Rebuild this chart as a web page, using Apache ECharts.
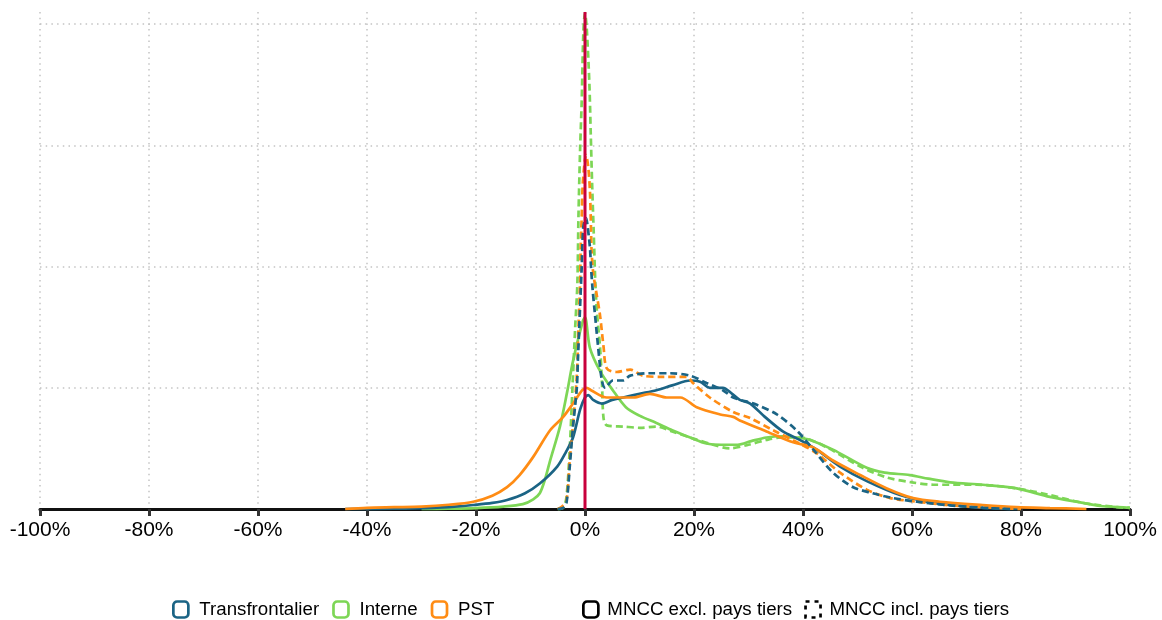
<!DOCTYPE html>
<html>
<head>
<meta charset="utf-8">
<script src="https://cdn.jsdelivr.net/npm/echarts@6/dist/echarts.min.js"></script>
<style>
html,body{margin:0;padding:0;background:#fff;}
#chart{width:1162px;height:620px;}
</style>
</head>
<body>
<div id="chart"></div>
<script>
// ---- Data (x in %, y in density units) ----
const xTicks = [-100, -80, -60, -40, -20, 0, 20, 40, 60, 80, 100];
const groupNames = ['Transfrontalier', 'Interne', 'PST'];
const styleNames = ['MNCC excl. pays tiers', 'MNCC incl. pays tiers'];

const transExcl = [[-44,0],[-35,0.003],[-28,0.01],[-24,0.02],[-20.5,0.033],[-17,0.05],[-14.3,0.074],[-11,0.13],[-8.3,0.21],[-5.1,0.35],[-3.5,0.47],[-2.2,0.59],[-0.9,0.82],[0,0.92],[0.6,0.94],[1.5,0.9],[3.1,0.87],[5,0.9],[7,0.92],[10,0.95],[13.1,0.98],[16,1.02],[19.3,1.06],[21.1,1.05],[22.9,1.0],[25.3,1.0],[27,0.95],[28.4,0.9],[30.3,0.87],[33,0.76],[36.3,0.64],[39.4,0.57],[42.5,0.49],[46.8,0.35],[51.7,0.23],[57.8,0.115],[63.9,0.05],[70,0.02],[75,0.005],[80,0]];
const transIncl = [[-5,0],[-4,0.01],[-3.4,0.05],[-2.8,0.35],[-2.2,0.68],[-1.5,1.0],[-1.3,1.23],[-0.6,2.0],[-0.3,2.33],[0.2,2.4],[0.4,2.36],[0.9,2.16],[1.1,2.0],[1.4,1.81],[1.8,1.62],[2.4,1.34],[3.1,1.06],[3.7,1.0],[5.1,1.06],[7,1.06],[8.3,1.1],[11.9,1.12],[15.6,1.12],[19.3,1.1],[22.3,1.04],[25.3,0.98],[27.2,0.92],[31.5,0.86],[35.2,0.78],[38.8,0.65],[41.9,0.49],[45.5,0.3],[49.2,0.18],[52.8,0.13],[56.5,0.09],[60.9,0.06],[67,0.03],[73,0.01],[78,0]];
const greenExcl = [[-30,0],[-25,0.003],[-20,0.008],[-15,0.02],[-11.4,0.04],[-9.5,0.08],[-8.3,0.13],[-7.3,0.25],[-6.4,0.4],[-4.6,0.68],[-3.3,0.96],[-2.2,1.22],[-0.4,1.55],[0,1.58],[0.9,1.33],[2.75,1.14],[5.1,0.98],[7.5,0.84],[10,0.77],[13.1,0.71],[16,0.65],[19.3,0.59],[22.3,0.54],[25,0.53],[28,0.53],[30.5,0.56],[33.3,0.59],[36.3,0.6],[39,0.59],[41.3,0.57],[45.5,0.49],[51.7,0.34],[55,0.3],[59.6,0.28],[63,0.25],[67,0.22],[73,0.2],[79.2,0.17],[85.3,0.1],[91.4,0.05],[94.5,0.025],[99.4,0.012],[100,0.01]];
const greenIncl = [[-5,0],[-4,0.01],[-3.4,0.1],[-2.8,0.5],[-2.3,1.0],[-1.8,1.5],[-1.4,1.86],[-1.2,2.41],[-0.9,2.96],[-0.6,3.37],[-0.3,3.93],[0,4.09],[0.3,3.98],[0.8,3.51],[1.05,3.1],[1.3,2.69],[1.6,2.28],[1.9,1.86],[2.2,1.62],[2.75,1.34],[3.1,1.06],[3.4,0.75],[4,0.69],[7,0.68],[10.1,0.67],[13.1,0.68],[16,0.64],[19.3,0.59],[23.5,0.53],[26.6,0.5],[30,0.53],[33.3,0.57],[36,0.59],[39.4,0.59],[44.3,0.51],[50.5,0.35],[55.4,0.26],[60,0.22],[63.9,0.2],[71.9,0.2],[79.2,0.17],[85.3,0.115],[91.4,0.05],[97.6,0.015],[100,0.01]];
const pstExcl = [[-44,0],[-40,0.01],[-35,0.015],[-30,0.02],[-25,0.035],[-20.5,0.06],[-17,0.11],[-14.3,0.18],[-12,0.28],[-9.5,0.43],[-6.4,0.65],[-4,0.76],[-2.2,0.87],[-0.5,0.98],[0.3,1.0],[1.1,0.98],[4,0.92],[8.9,0.92],[11.9,0.95],[15,0.92],[17.5,0.92],[20.5,0.84],[24.8,0.78],[27.2,0.76],[28.4,0.73],[33.3,0.64],[38.2,0.55],[41.8,0.51],[45.5,0.4],[50.5,0.28],[55.4,0.17],[60.2,0.09],[65.1,0.06],[73,0.033],[79.2,0.016],[85.3,0.008],[92,0]];
const pstIncl = [[-5,0],[-4.2,0.02],[-3.4,0.07],[-2.8,0.4],[-2.2,0.7],[-1.5,1.1],[-1.2,1.5],[-0.9,1.86],[-0.8,2.14],[-0.6,2.41],[-0.4,2.69],[0.2,2.92],[0.6,2.82],[0.9,2.63],[1.05,2.41],[1.2,2.14],[1.5,1.95],[2.1,1.78],[2.75,1.6],[3.4,1.34],[4,1.16],[5.8,1.13],[8.3,1.15],[10.6,1.1],[14.3,1.09],[18.7,1.09],[19.8,1.04],[22.9,0.92],[27.2,0.8],[30.3,0.75],[34.5,0.65],[39.4,0.54],[42.5,0.46],[46.8,0.3],[51.7,0.16],[56,0.09],[60.9,0.06],[67,0.03],[73,0.015],[80,0]];
const zeroLine = [[0,0],[0,4.1]];

const colors = {Transfrontalier:'#1b6485', Interne:'#7dd656', PST:'#ff8c14'};
const dash = [7,4];

function curve(name, data, dashed, z){
  return {
    name, type:'line', data, showSymbol:false, symbol:'none',
    smooth:0.3, clip:false, silent:true, z:z||3,
    lineStyle:{color:colors[name], width:2.7, type: dashed ? dash : 'solid'},
    itemStyle:{color:colors[name]}
  };
}

const chart = echarts.init(document.getElementById('chart'), null, {renderer:'canvas'});
const font = '"Liberation Sans", Arial, sans-serif';
const dotted = {color:'#c4c4c4', width:1.5, type:[1.5,4.2]};

chart.setOption({
  animation:false,
  backgroundColor:'#ffffff',
  grid:{left:40, right:32, top:12, bottom:111, containLabel:false},
  xAxis:{
    type:'value', min:-100, max:100, interval:20,
    axisLine:{show:true, onZero:false, lineStyle:{color:'#111', width:3}},
    axisTick:{show:true, length:7, lineStyle:{color:'#333', width:3}},
    axisLabel:{color:'#000', fontSize:21, fontFamily:font, margin:11, formatter:v=>v+'%'},
    splitLine:{show:true, lineStyle:dotted}
  },
  yAxis:{
    type:'value', min:0, max:4.1, interval:1,
    axisLine:{show:false}, axisTick:{show:false}, axisLabel:{show:false},
    splitLine:{show:true, showMaxLine:false, showMinLine:false, lineStyle:dotted}
  },
  legend:[
    {left:167, top:595, itemWidth:15, itemHeight:16, itemGap:13,
     textStyle:{fontSize:18.7, fontFamily:font, color:'#000', padding:[0,0,0,6]},
     selectedMode:false,
     data: groupNames.map(n=>({name:n, icon:'roundRect', itemStyle:{color:'rgba(0,0,0,0)', borderColor:colors[n], borderWidth:2.7}}))},
    {left:577, top:595, itemWidth:15, itemHeight:16, itemGap:12,
     textStyle:{fontSize:18.7, fontFamily:font, color:'#000', padding:[0,0,0,4]},
     selectedMode:false,
     data:[
      {name:styleNames[0], icon:'roundRect', itemStyle:{color:'rgba(0,0,0,0)', borderColor:'#000', borderWidth:2.7}},
      {name:styleNames[1], icon:'rect', itemStyle:{color:'rgba(0,0,0,0)', borderColor:'#000', borderWidth:2.7, borderType:[4,5]}}
     ]}
  ],
  series:[
    curve('Transfrontalier', transExcl, false, 4),
    curve('Interne', greenExcl, false, 3),
    curve('PST', pstExcl, false, 5),
    curve('Interne', greenIncl, true, 3),
    curve('PST', pstIncl, true, 4),
    curve('Transfrontalier', transIncl, true, 5),
    {name:styleNames[0], type:'line', data:[], itemStyle:{color:'#000'}, lineStyle:{color:'#000'}},
    {name:styleNames[1], type:'line', data:[], itemStyle:{color:'#000'}, lineStyle:{color:'#000', type:'dashed'}},
    {name:'zero', type:'line', data:zeroLine, symbol:'none', clip:false, silent:true, z:10,
     lineStyle:{color:'#c8003c', width:3}}
  ]
});
</script>
</body>
</html>
